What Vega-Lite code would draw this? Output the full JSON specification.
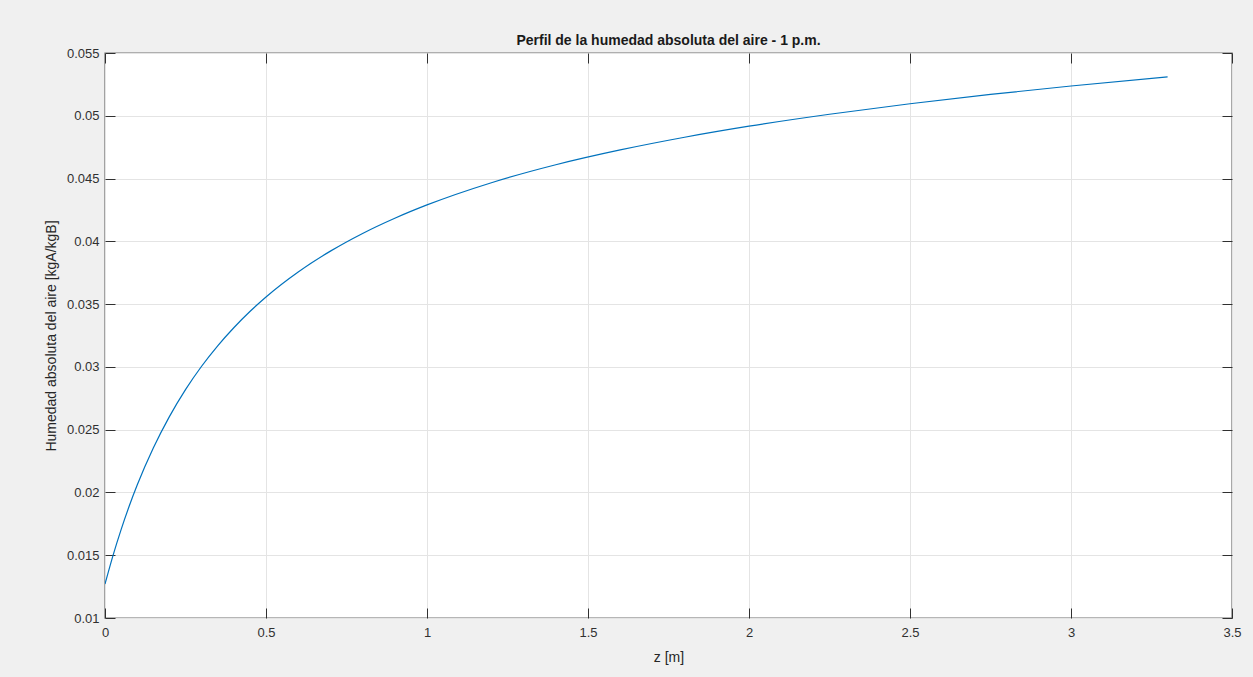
{
  "$schema": "https://vega.github.io/schema/vega-lite/v6.json",
  "width": 1127,
  "height": 565,
  "autosize": {"type": "none"},
  "padding": {"left": 105, "top": 53, "right": 21, "bottom": 59},
  "background": "#f0f0f0",
  "title": {
    "text": "Perfil de la humedad absoluta del aire - 1 p.m.",
    "font": "Liberation Sans",
    "fontSize": 14,
    "fontWeight": "bold",
    "color": "#1a1a1a",
    "anchor": "middle",
    "offset": -1
  },
  "config": {
    "view": {"fill": "white", "stroke": "#6f6f6f", "strokeWidth": 1.4},
    "axis": {
      "labelFont": "Liberation Sans",
      "titleFont": "Liberation Sans",
      "labelFontSize": 13,
      "titleFontSize": 14,
      "labelColor": "#303030",
      "titleColor": "#262626",
      "titleFontWeight": "normal",
      "domain": false,
      "tickColor": "#303030",
      "tickWidth": 1,
      "gridColor": "#e4e4e4",
      "gridWidth": 1
    }
  },
  "data": {
    "values": [
      {"z": 0, "w": 0.0127},
      {"z": 0.025, "w": 0.01499},
      {"z": 0.05, "w": 0.01704},
      {"z": 0.075, "w": 0.01890},
      {"z": 0.1, "w": 0.02059},
      {"z": 0.15, "w": 0.02354},
      {"z": 0.2, "w": 0.02604},
      {"z": 0.25, "w": 0.02819},
      {"z": 0.3, "w": 0.03005},
      {"z": 0.35, "w": 0.03168},
      {"z": 0.4, "w": 0.03312},
      {"z": 0.45, "w": 0.03441},
      {"z": 0.5, "w": 0.03557},
      {"z": 0.6, "w": 0.03756},
      {"z": 0.7, "w": 0.03922},
      {"z": 0.8, "w": 0.04063},
      {"z": 0.9, "w": 0.04184},
      {"z": 1.0, "w": 0.04290},
      {"z": 1.2, "w": 0.04467},
      {"z": 1.4, "w": 0.04610},
      {"z": 1.6, "w": 0.04728},
      {"z": 1.8, "w": 0.04829},
      {"z": 2.0, "w": 0.04917},
      {"z": 2.25, "w": 0.05012},
      {"z": 2.5, "w": 0.05096},
      {"z": 2.75, "w": 0.05170},
      {"z": 3.0, "w": 0.05237},
      {"z": 3.3, "w": 0.05310}
    ]
  },
  "layer": [
    {
      "mark": {"type": "line", "color": "#0072BD", "strokeWidth": 1.2, "interpolate": "monotone", "clip": true},
      "encoding": {
        "x": {
          "field": "z", "type": "quantitative",
          "scale": {"domain": [0, 3.5], "nice": false, "zero": false},
          "axis": {
            "orient": "bottom",
            "title": "z [m]",
            "values": [0, 0.5, 1, 1.5, 2, 2.5, 3, 3.5],
            "format": "~g",
            "tickSize": -10,
            "labelPadding": 18,
            "labelFlush": false,
            "labelOverlap": false,
            "titlePadding": 11
          }
        },
        "y": {
          "field": "w", "type": "quantitative",
          "scale": {"domain": [0.01, 0.055], "nice": false, "zero": false},
          "axis": {
            "orient": "left",
            "title": "Humedad absoluta del aire [kgA/kgB]",
            "values": [0.01, 0.015, 0.02, 0.025, 0.03, 0.035, 0.04, 0.045, 0.05, 0.055],
            "format": ".3~f",
            "tickSize": -10,
            "labelPadding": 16,
            "labelFlush": false,
            "labelOverlap": false,
            "titlePadding": 8
          }
        }
      }
    },
    {
      "mark": {"type": "line", "strokeOpacity": 0},
      "encoding": {
        "x": {
          "field": "z", "type": "quantitative",
          "scale": {"domain": [0, 3.5], "nice": false, "zero": false},
          "axis": {"orient": "top", "title": null, "labels": false, "grid": false, "values": [0, 0.5, 1, 1.5, 2, 2.5, 3, 3.5], "tickSize": -10}
        },
        "y": {
          "field": "w", "type": "quantitative",
          "scale": {"domain": [0.01, 0.055], "nice": false, "zero": false},
          "axis": {"orient": "right", "title": null, "labels": false, "grid": false, "values": [0.01, 0.015, 0.02, 0.025, 0.03, 0.035, 0.04, 0.045, 0.05, 0.055], "tickSize": -10}
        }
      }
    }
  ],
  "resolve": {"axis": {"x": "independent", "y": "independent"}}
}
